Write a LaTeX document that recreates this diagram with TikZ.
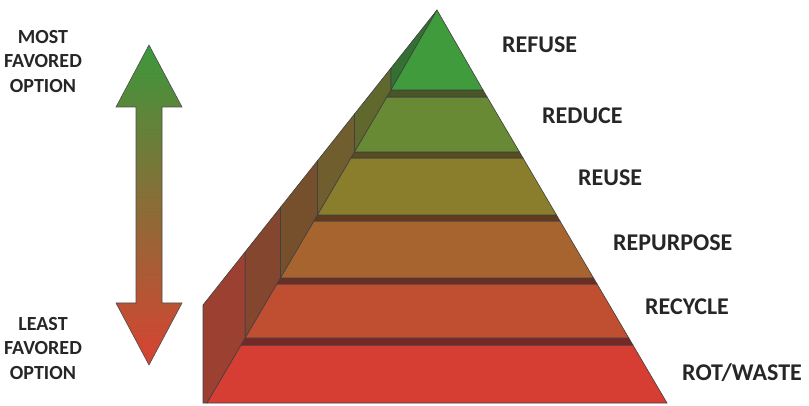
\documentclass[tikz,border=0pt]{standalone}
\usepackage{fontspec}
\setmainfont{Carlito}
\definecolor{fRefuse}{RGB}{63,155,60}
\definecolor{fReduce}{RGB}{104,138,52}
\definecolor{fReuse}{RGB}{138,126,44}
\definecolor{fRepurp}{RGB}{168,100,46}
\definecolor{fRecycle}{RGB}{192,78,48}
\definecolor{fRot}{RGB}{214,62,52}
\definecolor{tReduce}{RGB}{72,86,40}
\definecolor{tReuse}{RGB}{88,76,32}
\definecolor{tRepurp}{RGB}{98,58,30}
\definecolor{tRecycle}{RGB}{108,46,36}
\definecolor{tRot}{RGB}{118,40,38}
\definecolor{sRefuse}{RGB}{52,112,50}
\definecolor{sReduce}{RGB}{96,104,46}
\definecolor{sReuse}{RGB}{112,94,46}
\definecolor{sRepurp}{RGB}{118,80,44}
\definecolor{sRecycle}{RGB}{132,70,46}
\definecolor{sRot}{RGB}{156,64,50}
\definecolor{arTop}{RGB}{60,152,60}
\definecolor{arMid}{RGB}{142,112,46}
\definecolor{arBot}{RGB}{216,66,50}

\begin{document}
\begin{tikzpicture}[x=1pt,y=-1pt,
  face/.style={draw=black!75,line width=0.6pt},
  lbl/.style={font=\fontsize{24}{28}\selectfont\bfseries,text=black!85,anchor=base west,inner sep=0pt},
  ends/.style={font=\fontsize{20}{24.5}\selectfont\bfseries,text=black!85,align=center,anchor=north,inner sep=0pt}]
\useasboundingbox (0,0) rectangle (809,406);

\shadedraw[draw=black!70,line width=0.6pt,top color=arTop,middle color=arMid,bottom color=arBot]
  (149,45) -- (182,107) -- (162,107) -- (162,303) -- (182,303) -- (149,365)
  -- (116,303) -- (136,303) -- (136,107) -- (116,107) -- cycle;

\filldraw[face,fill=sRot] (207,403) -- (203,403) -- (203,305) -- (245.2,251.8) -- (245.2,338) -- cycle;
\filldraw[face,fill=sRecycle] (245.2,338) -- (245.2,251.8) -- (280.5,207.3) -- (280.5,278) -- cycle;
\filldraw[face,fill=sRepurp] (280.5,278) -- (280.5,207.3) -- (317.5,160.7) -- (317.5,215) -- cycle;
\filldraw[face,fill=sReuse] (317.5,215) -- (317.5,160.7) -- (354.5,114) -- (354.5,152) -- cycle;
\filldraw[face,fill=sReduce] (354.5,152) -- (354.5,114) -- (391,68) -- (391,90) -- cycle;
\filldraw[face,fill=sRefuse] (391,90) -- (391,68) -- (437,10) -- cycle;

\filldraw[face,fill=fRot] (207,403) -- (241.1,345) -- (632.9,345) -- (667,403) -- cycle;
\filldraw[face,fill=tRot] (241.1,345) -- (245.2,338) -- (628.8,338) -- (632.9,345) -- cycle;
\filldraw[face,fill=fRecycle] (245.2,338) -- (276.9,284) -- (597.1,284) -- (628.8,338) -- cycle;
\filldraw[face,fill=tRecycle] (276.9,284) -- (280.5,278) -- (593.5,278) -- (597.1,284) -- cycle;
\filldraw[face,fill=fRepurp] (280.5,278) -- (314,221) -- (560,221) -- (593.5,278) -- cycle;
\filldraw[face,fill=tRepurp] (314,221) -- (317.5,215) -- (556.5,215) -- (560,221) -- cycle;
\filldraw[face,fill=fReuse] (317.5,215) -- (351,158) -- (523,158) -- (556.5,215) -- cycle;
\filldraw[face,fill=tReuse] (351,158) -- (354.5,152) -- (519.5,152) -- (523,158) -- cycle;
\filldraw[face,fill=fReduce] (354.5,152) -- (386.9,97) -- (487.1,97) -- (519.5,152) -- cycle;
\filldraw[face,fill=tReduce] (386.9,97) -- (391,90) -- (483,90) -- (487.1,97) -- cycle;
\filldraw[face,fill=fRefuse] (391,90) -- (437,10) -- (483,90) -- cycle;

\node[lbl] (refuse) at (502,53) {REFUSE};
\node[lbl] (reduce) at (542,124) {REDUCE};
\node[lbl] (reuse) at (578,186) {REUSE};
\node[lbl] (repurpose) at (613,251) {REPURPOSE};
\node[lbl] (recycle) at (645,314) {RECYCLE};
\node[lbl] (rot) at (682,380) {ROT/WASTE};

\node[ends] (most) at (43,30) {MOST\\FAVORED\\OPTION};
\node[ends] (least) at (43,317) {LEAST\\FAVORED\\OPTION};
\end{tikzpicture}
\end{document}
